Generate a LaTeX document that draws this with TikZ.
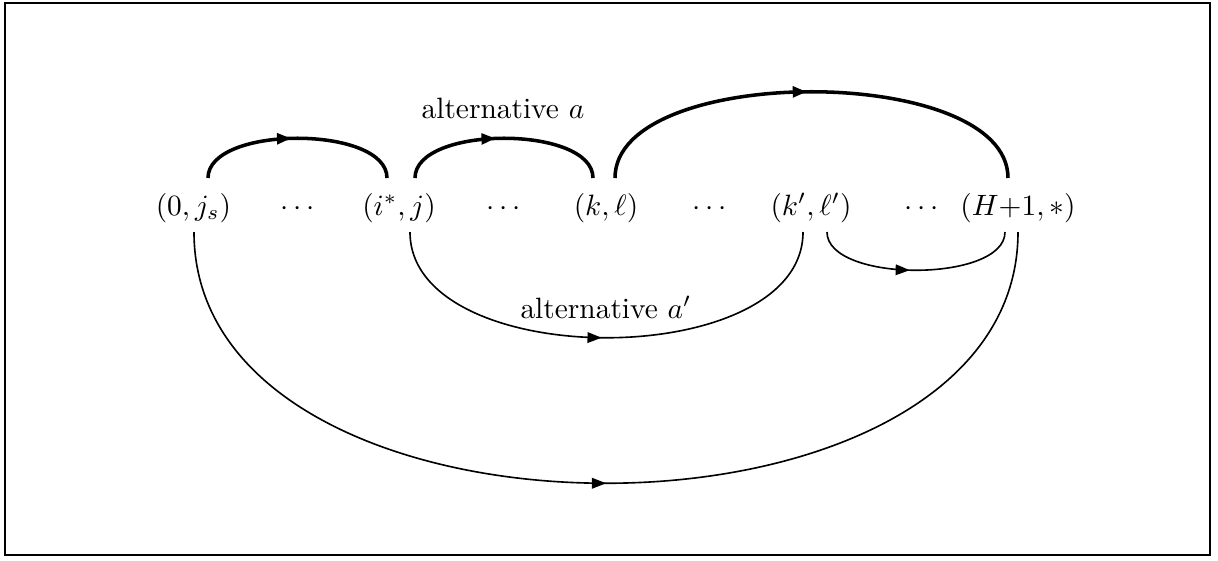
\documentclass[tikz,border=0pt]{standalone}
\usetikzlibrary{calc,decorations.markings,arrows.meta}
\begin{document}
\begin{tikzpicture}[x=0.34pt,y=-0.34pt]
\tikzset{
  lbl/.style={anchor=base, inner sep=0pt},
  thickarc/.style={line width=1.2pt},
  thinarc/.style={line width=0.55pt},
  midarrow/.style={postaction={decorate}, decoration={markings, mark=at position #1 with {\arrow{Triangle[length=4.8pt,width=3.6pt]}}}},
  frame/.style={line width=0.8pt}
}
\useasboundingbox (0,0) rectangle (1218,560);
\draw[frame] (5,3) rectangle (1210,555);
% nodes
\node[lbl] (n0) at (193.5,215) {$(0,j_s)$};
\node[lbl] (d1) at (298,215) {$\cdots$};
\node[lbl] (n1) at (399,215) {$(i^*,j)$};
\node[lbl] (d2) at (504,215) {$\cdots$};
\node[lbl] (n2) at (606,215) {$(k,\ell)$};
\node[lbl] (d3) at (710,215) {$\cdots$};
\node[lbl] (n3) at (811,215) {$(k',\ell')$};
\node[lbl] (d4) at (922,215) {$\cdots$};
\node[lbl] (n4) at (1018,215) {$(H{+}1,*)$};
\node[lbl] (la) at (503,118) {alternative $a$};
\node[lbl] (lb) at (606,318) {alternative $a'$};
% arc end points
\coordinate (a1s) at ($(n0.base)+(14.5,-37)$);
\coordinate (a1e) at ($(n1.base)+(-12,-37)$);
\coordinate (a2s) at ($(n1.base)+(16,-37)$);
\coordinate (a2e) at ($(n2.base)+(-13,-37)$);
\coordinate (a3s) at ($(n2.base)+(9,-37)$);
\coordinate (a3e) at ($(n4.base)+(-10,-37)$);
\coordinate (a4s) at ($(n1.base)+(11,17)$);
\coordinate (a4e) at ($(n3.base)+(-8,17)$);
\coordinate (a5s) at ($(n3.base)+(16,17)$);
\coordinate (a5e) at ($(n4.base)+(-13,17)$);
\coordinate (a6s) at ($(n0.base)+(0.5,17)$);
\coordinate (a6e) at ($(n4.base)+(0,17)$);
% arcs
\draw[thickarc, midarrow=0.47] (a1s) .. controls +(0,-53) and +(0,-53) .. (a1e);
\draw[thickarc, midarrow=0.46] (a2s) .. controls +(0,-53) and +(0,-53) .. (a2e);
\draw[thickarc, midarrow=0.49] (a3s) .. controls +(0,-115) and +(0,-115) .. (a3e);
\draw[thinarc, midarrow=0.49] (a4s) .. controls +(0,141) and +(0,141) .. (a4e);
\draw[thinarc, midarrow=0.47] (a5s) .. controls +(0,51) and +(0,51) .. (a5e);
\draw[thinarc, midarrow=0.5] (a6s) .. controls +(0,335) and +(0,335) .. (a6e);
\end{tikzpicture}
\end{document}
